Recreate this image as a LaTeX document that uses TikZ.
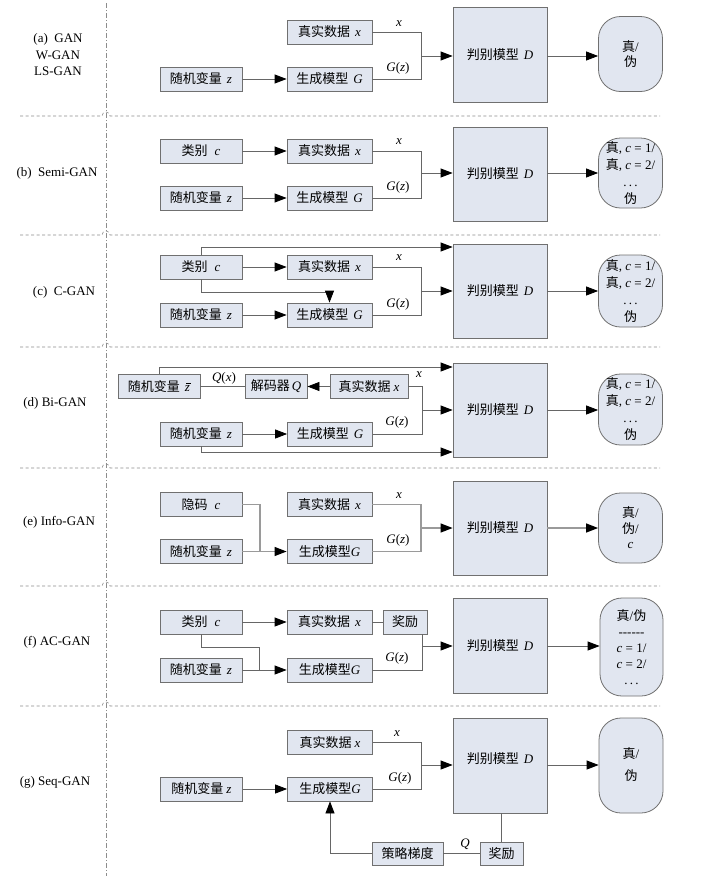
\documentclass[tikz,border=0pt]{standalone}
\usepackage{fontspec}
\setmainfont{Liberation Serif}
\newfontfamily\cjk{Noto Sans CJK SC}
\usetikzlibrary{arrows.meta}
\definecolor{boxfill}{HTML}{E1E6F0}
\definecolor{boxline}{HTML}{707070}
\definecolor{lnc}{HTML}{666666}
\definecolor{lnlight}{HTML}{9A9A9A}
\definecolor{sepc}{HTML}{8C8C8C}
\newcommand\zh[1]{{\cjk #1}}
\newcommand\mi[1]{\textit{#1}}
\newcommand\gz{\mi{G}(\mi{z})}
\newcommand\zbar{\makebox[0pt][l]{\kern1.3pt\raisebox{7.6pt}{\rule{4.6pt}{0.55pt}}}\mi{z}}
\tikzset{
  box/.style={draw=boxline, fill=boxfill, line width=0.8pt, inner sep=0pt,
    font=\fontsize{13}{16}\selectfont, minimum height=24pt},
  wl/.style={box, minimum width=82pt},
  wm/.style={box, minimum width=85pt},
  dbox/.style={box, minimum width=94pt, minimum height=95pt},
  oval/.style={box, rounded corners=22pt, minimum width=64pt, align=center},
  ln/.style={draw=lnc, line width=0.8pt},
  lnl/.style={draw=lnlight, line width=1.2pt},
  arr/.style={ln, -{Triangle[length=12pt,width=9pt,color=black]}},
  arrl/.style={lnl, -{Triangle[length=12pt,width=9pt,color=black]}},
  lab/.style={font=\fontsize{13}{16.5}\selectfont, inner sep=0pt, align=center},
  sep/.style={draw=sepc, line width=0.6pt, dash pattern=on 3pt off 2.5pt},
  vsep/.style={draw=sepc, line width=0.6pt, dash pattern=on 5pt off 2pt on 1pt off 2pt}
}
\newcommand\sepline[1]{\draw[sep] (20,#1) -- (102,#1) arc[start angle=180,end angle=360,radius=4] -- (660,#1);}
\begin{document}
\begin{tikzpicture}[x=1pt,y=-1pt]
\fill[white] (0,0) rectangle (718,876);
\useasboundingbox (0,0) rectangle (718,876);
% separators
\draw[vsep] (106,3) -- (106,876);
\sepline{116}
\sepline{235}
\sepline{347}
\sepline{468}
\sepline{586}
\sepline{706}

% ---------------- (a)
\node[lab] (la) at (58,55) {(a)\ \ GAN\\W-GAN\\LS-GAN};
\node[wm] (ra) at (329.5,32) {\zh{真实数据}\hspace{5pt}\mi{x}};
\node[wl] (za) at (201,79) {\zh{随机变量}\hspace{5pt}\mi{z}};
\node[wm] (ga) at (329.5,79) {\zh{生成模型}\hspace{5pt}\mi{G}};
\node[dbox] (da) at (500,55) {\zh{判别模型}\hspace{5pt}\mi{D}};
\node[oval, minimum height=75pt, font=\fontsize{13}{15.5}\selectfont] (oa) at (630.5,54) {\zh{真}/\\\zh{伪}};
\coordinate (ja) at (421,56);
\draw[arr] (za.east) -- (ga.west);
\draw[ln] (ra.east) -| (ja);
\draw[ln] (ga.east) -| (ja);
\draw[arr] (ja) -- (ja -| da.west);
\draw[arr] (da.east |- ja) -- (oa.west |- ja);
\node[lab] (xa) at (399,24) {\mi{x}};
\node[lab] (gza) at (398,68) {\gz};

% ---------------- (b)
\node[lab] (lb) at (57,173) {(b)\ \ Semi-GAN};
\node[wl] (cb) at (201,151) {\zh{类别}\hspace{7pt}\mi{c}};
\node[wm] (rb) at (329.5,151) {\zh{真实数据}\hspace{5pt}\mi{x}};
\node[wl] (zb) at (201,198) {\zh{随机变量}\hspace{5pt}\mi{z}};
\node[wm] (gb) at (329.5,198) {\zh{生成模型}\hspace{5pt}\mi{G}};
\node[dbox, minimum height=94pt] (db) at (500,174) {\zh{判别模型}\hspace{5pt}\mi{D}};
\node[oval, minimum height=70pt, font=\fontsize{13}{17}\selectfont] (ob) at (630.5,173) {\zh{真}, \mi{c} = 1/\\\zh{真}, \mi{c} = 2/\\.\,.\,.\\\zh{伪}};
\coordinate (jb) at (421,173);
\draw[arr] (cb.east) -- (rb.west);
\draw[arr] (zb.east) -- (gb.west);
\draw[ln] (rb.east) -| (jb);
\draw[ln] (gb.east) -| (jb);
\draw[arr] (jb) -- (jb -| db.west);
\draw[arr] (db.east |- jb) -- (ob.west |- jb);
\node[lab] (xb) at (399,142) {\mi{x}};
\node[lab] (gzb) at (398,187) {\gz};

% ---------------- (c)
\node[lab] (lc) at (64,292) {(c)\ \ C-GAN};
\node[wl] (cc) at (201,267) {\zh{类别}\hspace{7pt}\mi{c}};
\node[wm] (rc) at (329.5,267) {\zh{真实数据}\hspace{5pt}\mi{x}};
\node[wl] (zc) at (201,315) {\zh{随机变量}\hspace{5pt}\mi{z}};
\node[wm] (gc) at (329.5,315) {\zh{生成模型}\hspace{5pt}\mi{G}};
\node[dbox, minimum height=94pt] (dc) at (500,291) {\zh{判别模型}\hspace{5pt}\mi{D}};
\node[oval, minimum height=72pt, font=\fontsize{13}{17}\selectfont] (oc) at (630.5,291) {\zh{真}, \mi{c} = 1/\\\zh{真}, \mi{c} = 2/\\.\,.\,.\\\zh{伪}};
\coordinate (jc) at (421,291);
\coordinate (tc) at (300,247);
\coordinate (bc) at (300,292);
\draw[arr] (cc.north) |- (tc -| dc.west);
\draw[arr] (cc.south) |- (bc -| gc.north) -- (gc.north);
\draw[arr] (cc.east) -- (rc.west);
\draw[arr] (zc.east) -- (gc.west);
\draw[ln] (rc.east) -| (jc);
\draw[ln] (gc.east) -| (jc);
\draw[arr] (jc) -- (jc -| dc.west);
\draw[arr] (dc.east |- jc) -- (oc.west |- jc);
\node[lab] (xc) at (399,258) {\mi{x}};
\node[lab] (gzc) at (398,304) {\gz};

% ---------------- (d)
\node[lab] (ld) at (55,403) {(d) Bi-GAN};
\node[wl] (zbd) at (159,386.5) {\zh{随机变量}\hspace{5pt}\zbar};
\node[box, minimum width=62pt] (qd) at (276,386.5) {\zh{解码器}\hspace{2pt}\mi{Q}};
\node[box, minimum width=78pt] (rd) at (369,386.5) {\zh{真实数据}\hspace{3pt}\mi{x}};
\node[wl] (zd) at (201,434) {\zh{随机变量}\hspace{5pt}\mi{z}};
\node[wm] (gd) at (330,434) {\zh{生成模型}\hspace{5pt}\mi{G}};
\node[dbox, minimum height=94pt] (dd) at (500,410) {\zh{判别模型}\hspace{5pt}\mi{D}};
\node[oval, minimum height=71pt, font=\fontsize{13}{17}\selectfont] (od) at (630.5,409.5) {\zh{真}, \mi{c} = 1/\\\zh{真}, \mi{c} = 2/\\.\,.\,.\\\zh{伪}};
\coordinate (jd) at (422,410);
\coordinate (td) at (300,367);
\coordinate (bd) at (300,452);
\draw[arr] (zbd.north) |- (td -| dd.west);
\draw[arr] (zd.south) |- (bd -| dd.west);
\draw[arr] (rd.west) -- (qd.east);
\draw[ln] (qd.west) -- (zbd.east);
\draw[arr] (zd.east) -- (gd.west);
\draw[ln] (rd.east) -| (jd);
\draw[ln] (gd.east) -| (jd);
\draw[arr] (jd) -- (jd -| dd.west);
\draw[arr] (dd.east |- jd) -- (od.west |- jd);
\node[lab] (qxd) at (224,378.5) {\mi{Q}(\mi{x})};
\node[lab] (xd) at (419,375) {\mi{x}};
\node[lab] (gzd) at (397,422.5) {\gz};

% ---------------- (e)
\node[lab] (le) at (59,522) {(e) Info-GAN};
\node[wl] (ce) at (201,504.5) {\zh{隐码}\hspace{7pt}\mi{c}};
\node[wm] (re) at (329.5,504.5) {\zh{真实数据}\hspace{5pt}\mi{x}};
\node[wl] (ze) at (201,551.5) {\zh{随机变量}\hspace{5pt}\mi{z}};
\node[wm] (ge) at (329.5,551.5) {\zh{生成模型}\mi{G}};
\node[dbox, minimum height=94pt] (de) at (500,528) {\zh{判别模型}\hspace{5pt}\mi{D}};
\node[oval, minimum height=70pt, font=\fontsize{13}{15.5}\selectfont] (oe) at (630.5,528) {\zh{真}/\\\zh{伪}/\\\mi{c}};
\coordinate (je) at (421,528);
\coordinate (me) at (260,551.5);
\draw[lnl] (ce.east) -| (me);
\draw[arrl] (ze.east) -- (ge.west);
\draw[lnl] (re.east) -| (je);
\draw[lnl] (ge.east) -| (je);
\draw[arrl] (je) -- (je -| de.west);
\draw[arrl] (de.east |- je) -- (oe.west |- je);
\node[lab] (xe) at (399,496) {\mi{x}};
\node[lab] (gze) at (398,540) {\gz};

% ---------------- (f)
\node[lab] (lf) at (57,642) {(f) AC-GAN};
\node[wl] (cf) at (201,622) {\zh{类别}\hspace{7pt}\mi{c}};
\node[wm] (rf) at (329.5,622) {\zh{真实数据}\hspace{5pt}\mi{x}};
\node[box, minimum width=44pt] (jlf) at (405,622) {\zh{奖励}};
\node[wl] (zf) at (201,670) {\zh{随机变量}\hspace{5pt}\mi{z}};
\node[wm] (gf) at (329.5,670) {\zh{生成模型}\mi{G}};
\node[dbox] (df) at (500,645.5) {\zh{判别模型}\hspace{5pt}\mi{D}};
\node[oval, minimum width=63pt, minimum height=98pt, font=\fontsize{13}{16}\selectfont] (of) at (631.5,647) {\zh{真}/\zh{伪}\\-{}-{}-{}-{}-{}-\\\mi{c} = 1/\\\mi{c} = 2/\\.\,.\,.};
\coordinate (jf) at (422,646);
\coordinate (mf1) at (259,647);
\coordinate (mf) at (259,670);
\draw[ln] (cf.south) |- (mf1) -- (mf);
\draw[arr] (cf.east) -- (rf.west);
\draw[arr] (zf.east) -- (gf.west);
\draw[ln] (rf.east) -- (jlf.west);
\draw[ln] (jf |- jlf.south) -- (jf |- gf.east) -- (gf.east);
\draw[arr] (jf) -- (jf -| df.west);
\draw[arr] (df.east |- jf) -- (of.west |- jf);
\node[lab] (gzf) at (397,658) {\gz};

% ---------------- (g)
\node[lab] (lg) at (55,782) {(g) Seq-GAN};
\node[wm] (rg) at (330,742.5) {\zh{真实数据}\hspace{3pt}\mi{x}};
\node[wl] (zg) at (201.5,789) {\zh{随机变量}\hspace{3pt}\mi{z}};
\node[wm] (gg) at (330,789) {\zh{生成模型}\mi{G}};
\node[dbox] (dg) at (500,765.5) {\raisebox{7pt}[\height][\depth]{\zh{判别模型}\hspace{5pt}\mi{D}}};
\node[oval, minimum height=95pt, font=\fontsize{13}{20}\selectfont] (og) at (631,765.5) {\raisebox{2pt}[\height][\depth]{\zh{真}/}\\\zh{伪}};
\node[box, minimum width=71pt, minimum height=23pt] (pg) at (407.5,853.5) {\zh{策略梯度}};
\node[box, minimum width=43pt, minimum height=23pt] (jlg) at (501.5,853.5) {\zh{奖励}};
\coordinate (jg) at (421,765);
\draw[arr] (zg.east) -- (gg.west);
\draw[ln] (rg.east) -| (jg);
\draw[ln] (gg.east) -| (jg);
\draw[arr] (jg) -- (jg -| dg.west);
\draw[arr] (dg.east |- jg) -- (og.west |- jg);
\draw[ln] (jlg.north |- dg.south) -- (jlg.north);
\draw[ln] (jlg.west) -- (pg.east);
\draw[arr] (pg.west) -| (gg.south);
\node[lab] (xg) at (397,734) {\mi{x}};
\node[lab] (gzg) at (400,778) {\gz};
\node[lab] (qg) at (465,844) {\mi{Q}};
\end{tikzpicture}
\end{document}
